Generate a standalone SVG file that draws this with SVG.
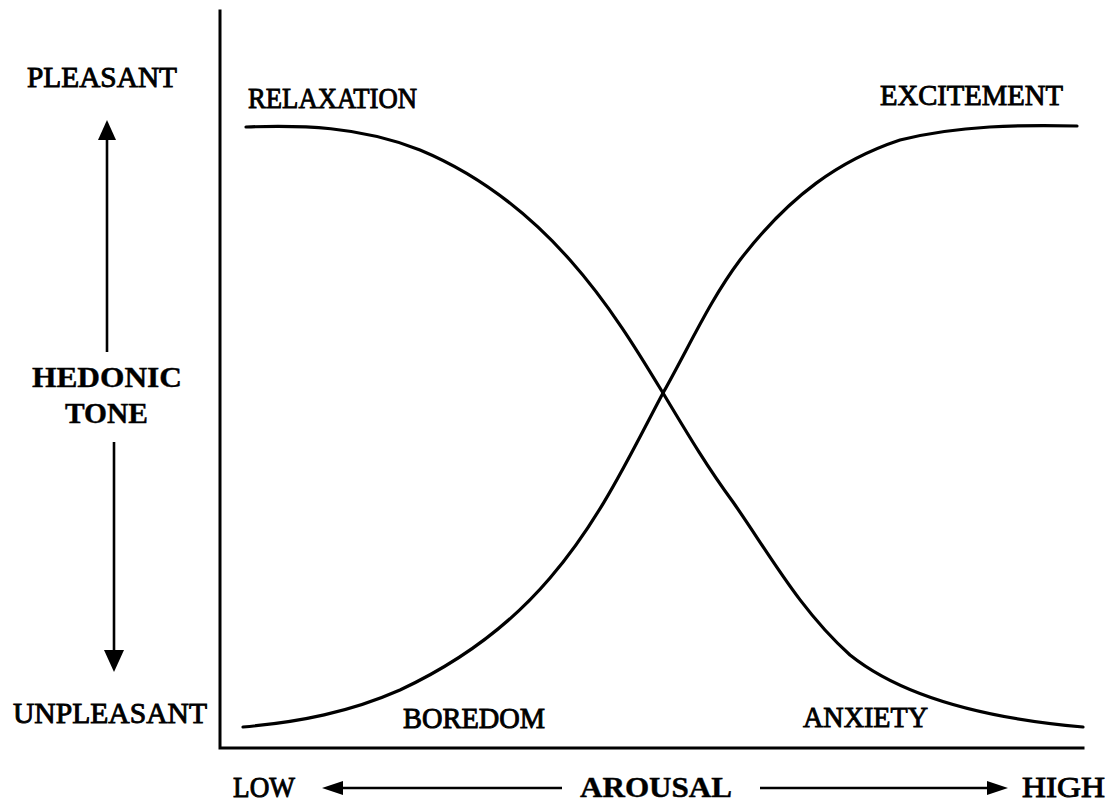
<svg xmlns="http://www.w3.org/2000/svg" width="1109" height="804" viewBox="0 0 1109 804">
<defs>
<style>
.lbl{font-family:"Liberation Serif","Times New Roman",serif;font-size:29px;fill:#000;stroke:#000;stroke-width:0.9}
.bold{font-weight:bold;stroke-width:0.4}
.ax{stroke:#000;stroke-width:3;fill:none;stroke-linecap:square}
.crv{stroke:#000;stroke-width:3.2;fill:none;stroke-linecap:round}
.arr{stroke:#000;stroke-width:2.6;fill:none}
</style>
</defs>
<rect width="1109" height="804" fill="#fff"/>
<g id="axes">
<path class="ax" d="M220,11 L220,748 L1083,748"/>
</g>
<g id="connectors">
<path class="crv" d="M246,127 C300,125 360,126 420,150 C480,175 530,215 570,260 C610,305 640,355 663,393 C690,438 708,468 733,502 C770,555 800,610 850,655 C900,695 980,718 1083,727"/>
<path class="crv" d="M243,727 C300,722 350,712 400,690 C460,662 510,625 550,578 C600,520 630,455 663,393 C690,345 710,300 740,260 C790,195 840,160 900,140 C960,125 1020,125 1077,126"/>
<line class="arr" x1="107" y1="352" x2="107" y2="136"/>
<polygon points="107,120 98,140 116,140"/>
<line class="arr" x1="114" y1="442" x2="114" y2="655"/>
<polygon points="114,672 104,650 124,650"/>
<line class="arr" x1="338" y1="788" x2="562" y2="788"/>
<polygon points="322,788 343,781 343,795"/>
<line class="arr" x1="760" y1="788" x2="992" y2="788"/>
<polygon points="1008,788 987,781 987,795"/>
</g>
<g id="pleasant"><text class="lbl" x="27" y="87" textLength="150" lengthAdjust="spacingAndGlyphs">PLEASANT</text></g>
<g id="unpleasant"><text class="lbl" x="13" y="723" textLength="194" lengthAdjust="spacingAndGlyphs">UNPLEASANT</text></g>
<g id="hedonic-tone">
<text class="lbl bold" x="32" y="387" textLength="150" lengthAdjust="spacingAndGlyphs">HEDONIC</text>
<text class="lbl bold" x="65" y="423" textLength="83" lengthAdjust="spacingAndGlyphs">TONE</text>
</g>
<g id="relaxation"><text class="lbl" x="248" y="108" textLength="169" lengthAdjust="spacingAndGlyphs">RELAXATION</text></g>
<g id="excitement"><text class="lbl" x="880" y="105" textLength="183" lengthAdjust="spacingAndGlyphs">EXCITEMENT</text></g>
<g id="boredom"><text class="lbl" x="403" y="728" textLength="142" lengthAdjust="spacingAndGlyphs">BOREDOM</text></g>
<g id="anxiety"><text class="lbl" x="803" y="727" textLength="125" lengthAdjust="spacingAndGlyphs">ANXIETY</text></g>
<g id="low"><text class="lbl" x="233" y="797" textLength="62" lengthAdjust="spacingAndGlyphs">LOW</text></g>
<g id="arousal"><text class="lbl bold" x="580" y="797" textLength="152" lengthAdjust="spacingAndGlyphs">AROUSAL</text></g>
<g id="high"><text class="lbl" x="1022" y="797" textLength="83" lengthAdjust="spacingAndGlyphs">HIGH</text></g>
</svg>
